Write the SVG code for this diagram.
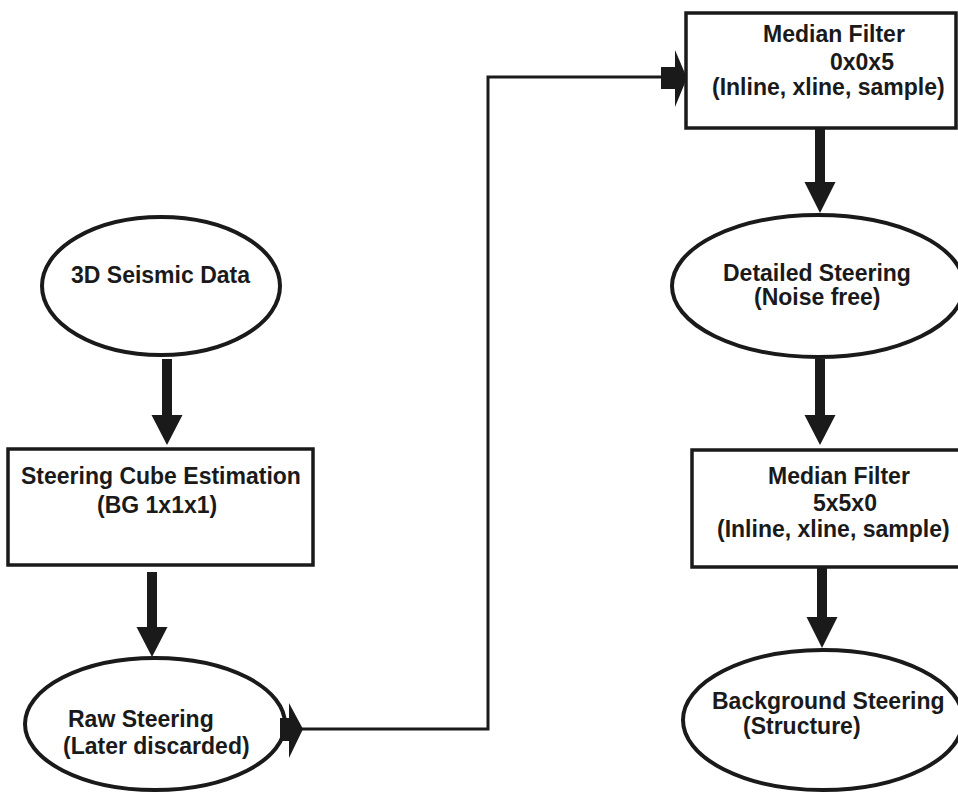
<svg xmlns="http://www.w3.org/2000/svg" width="958" height="794" viewBox="0 0 958 794">
<style>
.shape{fill:#fff;stroke:#1a1a1a}
.ell{stroke-width:4}
.box{stroke-width:3.5}
.t{font-family:"Liberation Sans",Arial,Helvetica,sans-serif;font-weight:bold;font-size:23px;fill:#1a1a1a}
.line{fill:none;stroke:#1a1a1a;stroke-width:3}
.head{fill:#1a1a1a;stroke:none}
</style>
<rect width="958" height="794" fill="#fff"/>
<g id="node-seismic">
<ellipse class="shape ell" cx="161" cy="286" rx="119" ry="69"/>
<text class="t" x="71" y="283">3D Seismic Data</text>
</g>
<g id="node-steering-cube">
<rect class="shape box" x="8" y="449" width="305" height="116"/>
<text class="t" x="21" y="484">Steering Cube Estimation</text>
<text class="t" x="97" y="513">(BG 1x1x1)</text>
</g>
<g id="node-raw">
<ellipse class="shape ell" cx="155" cy="724" rx="130" ry="66"/>
<text class="t" x="68" y="727">Raw Steering</text>
<text class="t" x="63" y="754">(Later discarded)</text>
</g>
<g id="node-median1">
<rect class="shape box" x="686" y="13" width="270" height="115"/>
<text class="t" x="763" y="42">Median Filter</text>
<text class="t" x="830" y="70">0x0x5</text>
<text class="t" x="712" y="95">(Inline, xline, sample)</text>
</g>
<g id="node-detailed">
<ellipse class="shape ell" cx="818" cy="286" rx="146" ry="71"/>
<text class="t" x="723" y="281">Detailed Steering</text>
<text class="t" x="754" y="305">(Noise free)</text>
</g>
<g id="node-median2">
<rect class="shape box" x="692" y="450" width="272" height="117"/>
<text class="t" x="768" y="484">Median Filter</text>
<text class="t" x="813" y="511">5x5x0</text>
<text class="t" x="717" y="537">(Inline, xline, sample)</text>
</g>
<g id="node-background">
<ellipse class="shape ell" cx="823" cy="720" rx="140" ry="70"/>
<text class="t" x="712" y="709">Background Steering</text>
<text class="t" x="743" y="734">(Structure)</text>
</g>
<g id="connectors">
<polygon class="head" points="162,359 172,359 172,415 182.5,415 167,445 151.5,415 162,415"/>
<polygon class="head" points="147,572 157,572 157,627 167.5,627 152,657 136.5,627 147,627"/>
<polygon class="head" points="815,129 825,129 825,182 835.5,182 820,213 804.5,182 815,182"/>
<polygon class="head" points="815,359 825,359 825,415 835.5,415 820,445 804.5,415 815,415"/>
<polygon class="head" points="817,568 827,568 827,617 837.5,617 822,648 806.5,617 817,617"/>
<polyline class="line" points="302,729 488,729 488,77 670,77"/>
<polygon class="head" points="280,718 289,718 289,703 303,729 289,758 289,741 280,741"/>
<polygon class="head" points="661,67 675,67 675,50 687,78 675,107 675,89 661,89"/>
</g>
</svg>
